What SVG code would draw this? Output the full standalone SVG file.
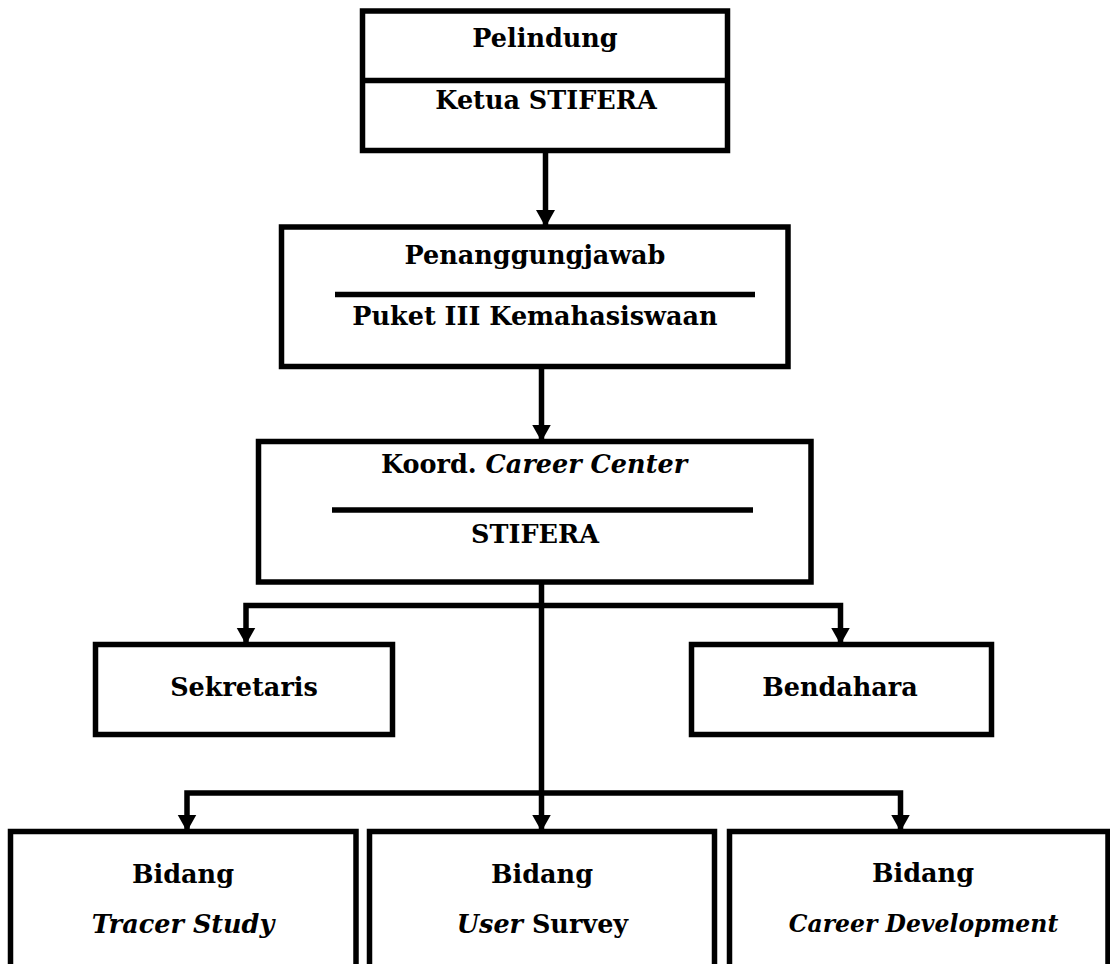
<svg xmlns="http://www.w3.org/2000/svg" width="1110" height="964" viewBox="0 0 1110 964">
<defs>
<style>
.box{fill:#fff;stroke:#000;stroke-width:5.5}
.div{stroke:#000;stroke-width:5.5}
.t{font-family:"DejaVu Serif","Liberation Serif",serif;font-weight:bold;font-size:25.5px;text-anchor:middle;fill:#000}
.i{font-style:italic}
.c{fill:none;stroke:#000;stroke-width:5.5}
</style>
<marker id="ah" markerUnits="userSpaceOnUse" markerWidth="20" markerHeight="20" refX="17" refY="9.5" orient="auto">
<path d="M0,0 L17,9.5 L0,19 Z" fill="#000"/>
</marker>
</defs>
<rect x="0" y="0" width="1110" height="964" fill="#fff"/>
<g id="connectors">
<path class="c" d="M545.5,150.5 V227" marker-end="url(#ah)"/>
<path class="c" d="M541.5,366.5 V441.5" marker-end="url(#ah)"/>
<path class="c" d="M541.5,582 V831.5" marker-end="url(#ah)"/>
<path class="c" d="M541.5,605.5 H246 V644.5" marker-end="url(#ah)"/>
<path class="c" d="M541.5,605.5 H840.5 V644.5" marker-end="url(#ah)"/>
<path class="c" d="M541.5,793 H187 V831.5" marker-end="url(#ah)"/>
<path class="c" d="M541.5,793 H900.5 V831.5" marker-end="url(#ah)"/>
</g>
<g id="pelindung">
<rect class="box" x="362.5" y="11" width="365" height="139.5"/>
<line class="div" x1="362.5" y1="80.5" x2="727.5" y2="80.5"/>
<text class="t" x="545" y="47">Pelindung</text>
<text class="t" x="546" y="109">Ketua STIFERA</text>
</g>
<g id="penanggungjawab">
<rect class="box" x="281.5" y="227" width="506.5" height="139.5"/>
<line class="div" x1="335" y1="294.5" x2="755" y2="294.5"/>
<text class="t" x="535" y="264">Penanggungjawab</text>
<text class="t" x="535" y="325">Puket III Kemahasiswaan</text>
</g>
<g id="koordinator">
<rect class="box" x="258.5" y="441.5" width="552.5" height="140.5"/>
<line class="div" x1="332" y1="510" x2="753" y2="510"/>
<text class="t" x="534" y="473">Koord. <tspan class="i">Career Center</tspan></text>
<text class="t" x="535" y="543">STIFERA</text>
</g>
<g id="sekretaris">
<rect class="box" x="95.5" y="644.5" width="297" height="90"/>
<text class="t" x="244" y="696">Sekretaris</text>
</g>
<g id="bendahara">
<rect class="box" x="691.5" y="644.5" width="300" height="90"/>
<text class="t" x="840" y="696">Bendahara</text>
</g>
<g id="tracer">
<rect class="box" x="10.5" y="831.5" width="345.5" height="150"/>
<text class="t" x="183" y="883">Bidang</text>
<text class="t i" x="183" y="933">Tracer Study</text>
</g>
<g id="user">
<rect class="box" x="369.5" y="831.5" width="345" height="150"/>
<text class="t" x="542" y="883">Bidang</text>
<text class="t" x="542.5" y="933"><tspan class="i">User</tspan> Survey</text>
</g>
<g id="career">
<rect class="box" x="729.5" y="831.5" width="378.5" height="150"/>
<text class="t" x="923" y="882">Bidang</text>
<text class="t i" x="923.5" y="932" style="font-size:23.5px">Career Development</text>
</g>
</svg>
